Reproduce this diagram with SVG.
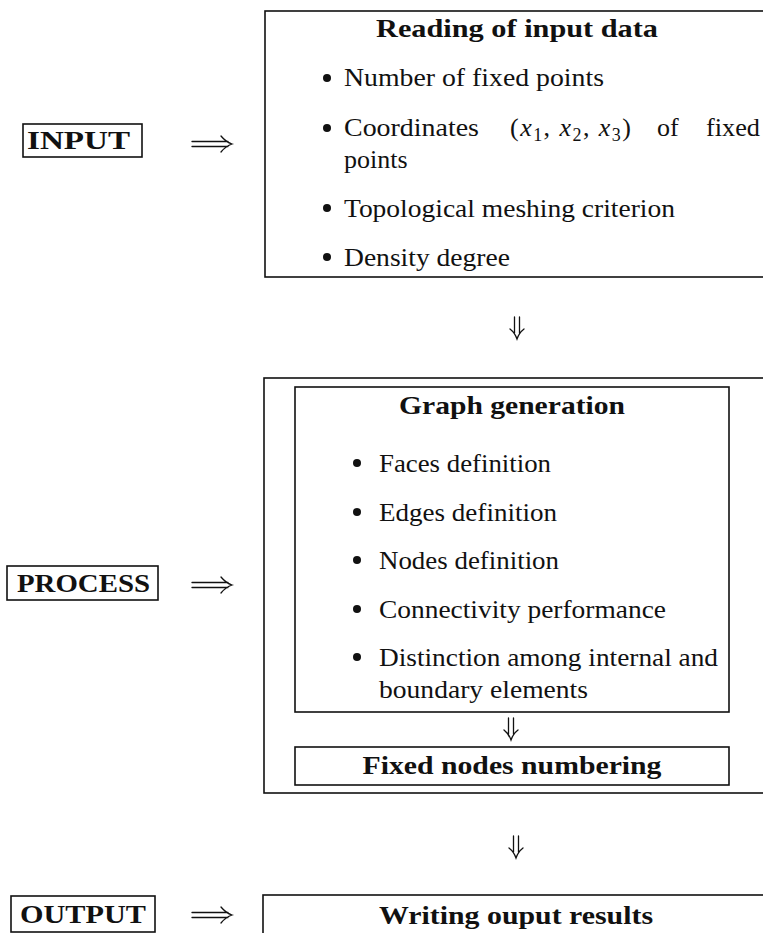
<svg xmlns="http://www.w3.org/2000/svg" width="763" height="933" viewBox="0 0 763 933">
<defs>
<style>
.box{fill:none;stroke:#111;stroke-width:1.6}
.t{font-family:"Liberation Serif","Times New Roman",serif;font-size:26px;fill:#111}
.b{font-family:"Liberation Serif","Times New Roman",serif;font-size:26px;font-weight:bold;fill:#111}
.lab{font-family:"Liberation Serif","Times New Roman",serif;font-size:25px;font-weight:bold;fill:#111}
.dot{fill:#111}
.ar{fill:none;stroke:#111;stroke-width:1.3;stroke-linecap:round}
</style>
<g id="rarrow">
<path class="ar" d="M0,-2.5H36M0,2.5H36M29,-8Q34,-2 40,0Q34,2 29,8"/>
</g>
<g id="darrow">
<path class="ar" d="M-2.5,0V16M2.5,0V16M-7,12Q-2,16 0,22Q2,16 7,12"/>
</g>
</defs>

<g id="input-label">
<rect class="box" x="23" y="124" width="119" height="33"/>
<text class="lab" x="27" y="149" textLength="103" lengthAdjust="spacingAndGlyphs">INPUT</text>
</g>

<g id="reading-box">
<rect class="box" x="265" y="11" width="520" height="266"/>
<text class="b" x="517" y="37" text-anchor="middle" textLength="282" lengthAdjust="spacingAndGlyphs">Reading of input data</text>
<circle class="dot" cx="327" cy="78" r="4"/>
<text class="t" x="344" y="86" textLength="260" lengthAdjust="spacingAndGlyphs">Number of fixed points</text>
<circle class="dot" cx="327" cy="128" r="4"/>
<text class="t" x="344" y="136" textLength="135" lengthAdjust="spacingAndGlyphs">Coordinates</text>
<text class="t" x="510" y="136" textLength="121">(<tspan font-style="italic">x</tspan><tspan font-size="18" dy="5">1</tspan><tspan dy="-5">, </tspan><tspan font-style="italic">x</tspan><tspan font-size="18" dy="5">2</tspan><tspan dy="-5">, </tspan><tspan font-style="italic">x</tspan><tspan font-size="18" dy="5">3</tspan><tspan dy="-5">)</tspan></text>
<text class="t" x="657" y="136">of</text>
<text class="t" x="706" y="136" textLength="54" lengthAdjust="spacingAndGlyphs">fixed</text>
<text class="t" x="344" y="168">points</text>
<circle class="dot" cx="327" cy="208" r="4"/>
<text class="t" x="344" y="217" textLength="331" lengthAdjust="spacingAndGlyphs">Topological meshing criterion</text>
<circle class="dot" cx="327" cy="257" r="4"/>
<text class="t" x="344" y="266" textLength="166" lengthAdjust="spacingAndGlyphs">Density degree</text>
</g>

<g id="process-label">
<rect class="box" x="7" y="566" width="151" height="34"/>
<text class="lab" x="17" y="592" textLength="133" lengthAdjust="spacingAndGlyphs">PROCESS</text>
</g>

<g id="process-box">
<rect class="box" x="264" y="378" width="520" height="415"/>
</g>

<g id="graph-generation">
<rect class="box" x="295" y="387" width="434" height="325"/>
<text class="b" x="512" y="414" text-anchor="middle" textLength="226" lengthAdjust="spacingAndGlyphs">Graph generation</text>
<circle class="dot" cx="357" cy="463" r="4"/>
<text class="t" x="379" y="472" textLength="172" lengthAdjust="spacingAndGlyphs">Faces definition</text>
<circle class="dot" cx="357" cy="512" r="4"/>
<text class="t" x="379" y="521" textLength="178" lengthAdjust="spacingAndGlyphs">Edges definition</text>
<circle class="dot" cx="357" cy="560" r="4"/>
<text class="t" x="379" y="569" textLength="180" lengthAdjust="spacingAndGlyphs">Nodes definition</text>
<circle class="dot" cx="357" cy="609" r="4"/>
<text class="t" x="379" y="618" textLength="287" lengthAdjust="spacingAndGlyphs">Connectivity performance</text>
<circle class="dot" cx="357" cy="657" r="4"/>
<text class="t" x="379" y="666" textLength="339" lengthAdjust="spacingAndGlyphs">Distinction among internal and</text>
<text class="t" x="379" y="698" textLength="209" lengthAdjust="spacingAndGlyphs">boundary elements</text>
</g>

<g id="fixed-nodes">
<rect class="box" x="295" y="747" width="434" height="38"/>
<text class="b" x="512" y="774" text-anchor="middle" textLength="299" lengthAdjust="spacingAndGlyphs">Fixed nodes numbering</text>
</g>

<g id="output-label">
<rect class="box" x="11" y="896" width="144" height="36"/>
<text class="lab" x="20" y="923" textLength="126" lengthAdjust="spacingAndGlyphs">OUTPUT</text>
</g>

<g id="writing-box">
<rect class="box" x="263" y="895" width="520" height="80"/>
<text class="b" x="516" y="924" text-anchor="middle" textLength="274" lengthAdjust="spacingAndGlyphs">Writing ouput results</text>
</g>

<g id="connectors">
<use href="#rarrow" x="192" y="144"/>
<use href="#rarrow" x="192" y="585"/>
<use href="#rarrow" x="192" y="915"/>
<use href="#darrow" x="517" y="317"/>
<use href="#darrow" x="511" y="718"/>
<use href="#darrow" x="516" y="836"/>
</g>
</svg>
